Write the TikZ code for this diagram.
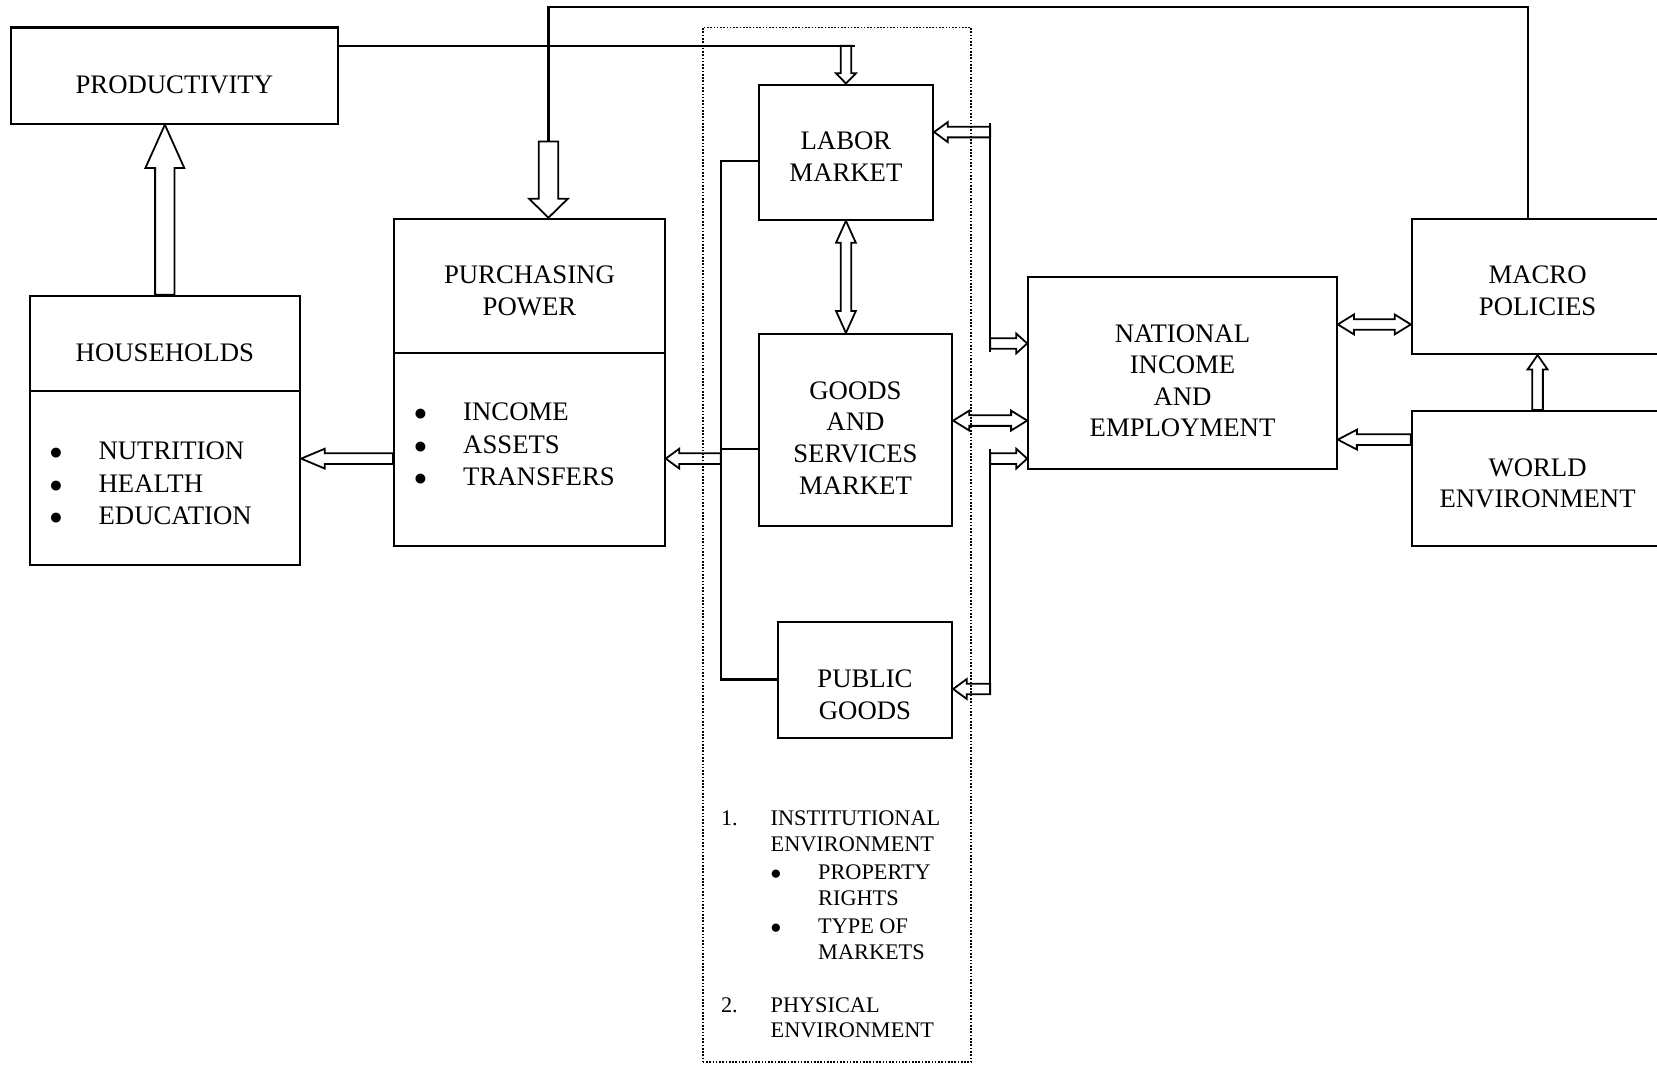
\documentclass[tikz,border=0pt]{standalone}
\usepackage{fontspec}
\setmainfont{Liberation Serif}
\usetikzlibrary{positioning,calc}
\tikzset{
  blk shaft/.store in=\blkshaft,
  blk head/.store in=\blkhead,
  blk len/.store in=\blklen,
  blk shaft=1.25mm, blk head=2.35mm, blk len=3.2mm,
  bigarrow/.style={blk shaft=2.3mm, blk head=4.6mm},
  blockline/.style={draw, line width=1.2pt, line join=miter},
}
% hollow block arrow, one head
\newcommand{\blockarrow}[3][]{%
  \begin{scope}[#1]
    \coordinate (ba-s) at #2;
    \coordinate (ba-e) at #3;
    \coordinate (ba-h) at ($(ba-e)!\blklen!(ba-s)$);
    \draw[blockline] ($(ba-s)!\blkshaft!90:(ba-e)$) -- ($(ba-h)!\blkshaft!-90:(ba-s)$)
      -- ($(ba-h)!\blkhead!-90:(ba-s)$) -- (ba-e)
      -- ($(ba-h)!\blkhead!90:(ba-s)$) -- ($(ba-h)!\blkshaft!90:(ba-s)$)
      -- ($(ba-s)!\blkshaft!-90:(ba-e)$) -- cycle;
  \end{scope}}
% hollow block arrow, two heads
\newcommand{\dblockarrow}[3][]{%
  \begin{scope}[#1]
    \coordinate (ba-s) at #2;
    \coordinate (ba-e) at #3;
    \coordinate (ba-h1) at ($(ba-s)!\blklen!(ba-e)$);
    \coordinate (ba-h2) at ($(ba-e)!\blklen!(ba-s)$);
    \draw[blockline] (ba-s) -- ($(ba-h1)!\blkhead!90:(ba-e)$) -- ($(ba-h1)!\blkshaft!90:(ba-e)$)
      -- ($(ba-h2)!\blkshaft!-90:(ba-s)$) -- ($(ba-h2)!\blkhead!-90:(ba-s)$) -- (ba-e)
      -- ($(ba-h2)!\blkhead!90:(ba-s)$) -- ($(ba-h2)!\blkshaft!90:(ba-s)$)
      -- ($(ba-h1)!\blkshaft!-90:(ba-e)$) -- ($(ba-h1)!\blkhead!-90:(ba-e)$) -- cycle;
  \end{scope}}

\begin{document}
\begin{tikzpicture}[
    x=2.5mm, y=-2.5mm,
    every node/.style={font=\fontsize{18}{21.3}\selectfont},
    box/.style={rectangle, draw, line width=1.4pt, inner sep=0pt},
    envbox/.style={rectangle, draw, line width=1.1pt, dash pattern=on 1.1pt off 1.1pt, inner sep=0pt},
    boxtext/.style={align=center, inner sep=0pt, anchor=north},
    bullets/.style={anchor=north west, inner sep=0pt, font=\fontsize{18}{22}\selectfont},
    smalltext/.style={anchor=north west, inner sep=0pt, font=\fontsize{15}{17.4}\selectfont},
    link/.style={line width=1.4pt}
]
\clip (0,0) rectangle (156.8,100.7);

% Environment (dotted frame)
\node[envbox, minimum width=63.5mm, minimum height=244.75mm] (env) at (79.2,51.55) {};

% Boxes
\node[box, minimum width=77.5mm, minimum height=22.75mm] (prod) at (16.5,7.15) {};
\node[box, minimum width=64mm, minimum height=63.75mm] (house) at (15.6,40.75) {};
\node[box, minimum width=64mm, minimum height=77.5mm] (purch) at (50.1,36.2) {};
\node[box, minimum width=41.25mm, minimum height=32mm] (labor) at (80.05,14.4) {};
\node[box, minimum width=45.75mm, minimum height=45.5mm] (goods) at (80.95,40.7) {};
\node[box, minimum width=41.25mm, minimum height=27.25mm] (public) at (81.85,64.35) {};
\node[box, minimum width=73mm, minimum height=45.5mm] (natl) at (111.9,35.3) {};
\node[box, minimum width=59.5mm, minimum height=32mm] (macro) at (145.5,27.1) {};
\node[box, minimum width=59.5mm, minimum height=32mm] (world) at (145.5,45.3) {};

% Dividers
\draw[link] ([yshift=-22.75mm]house.north west) -- ([yshift=-22.75mm]house.north east);
\draw[link] ([yshift=-32mm]purch.north west) -- ([yshift=-32mm]purch.north east);

% Texts
\node[boxtext, below=11.5mm of prod.north] (prodT) {PRODUCTIVITY};
\node[boxtext, below=11.6mm of house.north] (houseT) {HOUSEHOLDS};
\node[boxtext, below=11.4mm of purch.north] (purchT) {PURCHASING\\POWER};
\node[boxtext, below=11.4mm of labor.north] (laborT) {LABOR\\MARKET};
\node[boxtext, below=11.4mm of goods.north] (goodsT) {GOODS\\AND\\SERVICES\\MARKET};
\node[boxtext, below=11.4mm of public.north] (publicT) {PUBLIC\\GOODS};
\node[boxtext, below=11.4mm of natl.north] (natlT) {NATIONAL\\INCOME\\AND\\EMPLOYMENT};
\node[boxtext, below=11.4mm of macro.north] (macroT) {MACRO\\POLICIES};
\node[boxtext, below=11.4mm of world.north] (worldT) {WORLD\\ENVIRONMENT};

\node[bullets] (houseL) at (4.665,41.3) {\begin{tabular}{@{}p{11.6mm}@{}l@{}}
  $\bullet$ & NUTRITION\\ $\bullet$ & HEALTH\\ $\bullet$ & EDUCATION\end{tabular}};
\node[bullets] (purchL) at (39.165,37.6) {\begin{tabular}{@{}p{11.6mm}@{}l@{}}
  $\bullet$ & INCOME\\ $\bullet$ & ASSETS\\ $\bullet$ & TRANSFERS\end{tabular}};
\node[smalltext] (envL) at (68.2,76.4) {\begin{tabular}{@{}p{11.75mm}@{}p{11.25mm}@{}l@{}}
  1. & \multicolumn{2}{@{}l@{}}{INSTITUTIONAL}\\
     & \multicolumn{2}{@{}l@{}}{ENVIRONMENT}\\[0.4mm]
     & $\bullet$ & PROPERTY\\
     & & RIGHTS\\[0.6mm]
     & $\bullet$ & TYPE OF\\
     & & MARKETS\\[6.4mm]
  2. & \multicolumn{2}{@{}l@{}}{PHYSICAL}\\
     & \multicolumn{2}{@{}l@{}}{ENVIRONMENT}\end{tabular}};

% Coordinates for lines
\coordinate (topY) at (0,0.69);
\coordinate (purchIn) at (51.9,13.4);
\coordinate (prodEnd) at (80.9,4.32);
\coordinate (lbTop) at (68.2,15.25);
\coordinate (lbBot) at (68.2,64.3);
\coordinate (lbGoods) at (68.2,42.5);
\coordinate (lbOut) at (68.2,43.4);
\coordinate (rbA) at (93.7,11.65);
\coordinate (rbB) at (93.7,33.35);
\coordinate (rbC) at (93.7,42.45);
\coordinate (rbD) at (93.7,65.7);
\coordinate (rbLab) at (93.7,12.5);
\coordinate (rbNat) at (93.7,32.5);
\coordinate (rbNat2) at (93.7,43.4);
\coordinate (rbPub) at (93.7,65.2);
\coordinate (midY) at (0,39.8);
\coordinate (nmY) at (0,30.7);
\coordinate (wnY) at (0,41.6);

% Plain lines
\draw[link] ([xshift=-2.35mm]macro.north) -- ([xshift=-2.35mm]macro.north |- topY) -- (purchIn |- topY) -- (purchIn);
\draw[link] (prod.east |- prodEnd) -- (prodEnd);
\draw[link] (lbTop -| labor.west) -- (lbTop) -- (lbBot) -- (lbBot -| public.west);
\draw[link] (lbGoods) -- (lbGoods -| goods.west);
\draw[link] (rbA) -- (rbB);
\draw[link] (rbC) -- (rbD);

% Block arrows
\blockarrow[bigarrow, blk len=10.25mm]{(house.north)}{(house.north |- prod.south)}
\blockarrow[bigarrow, blk len=4.5mm]{(purchIn)}{(purchIn |- purch.north)}
\blockarrow[blk len=2.4mm]{(labor.north |- prodEnd)}{(labor.north)}
\dblockarrow[blk len=5.2mm]{(labor.south)}{(labor.south |- goods.north)}
\blockarrow{(lbOut)}{(lbOut -| purch.east)}
\blockarrow[blk len=5.6mm]{(lbOut -| purch.west)}{(lbOut -| house.east)}
\blockarrow{(rbLab)}{(rbLab -| labor.east)}
\blockarrow[blk len=2.6mm]{(rbNat)}{(rbNat -| natl.west)}
\blockarrow[blk len=2.6mm]{(rbNat2)}{(rbNat2 -| natl.west)}
\blockarrow{(rbPub)}{(rbPub -| public.east)}
\dblockarrow[blk len=3.8mm]{(goods.east |- midY)}{(natl.west |- midY)}
\dblockarrow[blk len=3.8mm]{(natl.east |- nmY)}{(macro.west |- nmY)}
\blockarrow[blk len=4.5mm]{(world.west |- wnY)}{(natl.east |- wnY)}
\blockarrow[blk len=3.4mm]{(world.north)}{(macro.south)}

\end{tikzpicture}
\end{document}
